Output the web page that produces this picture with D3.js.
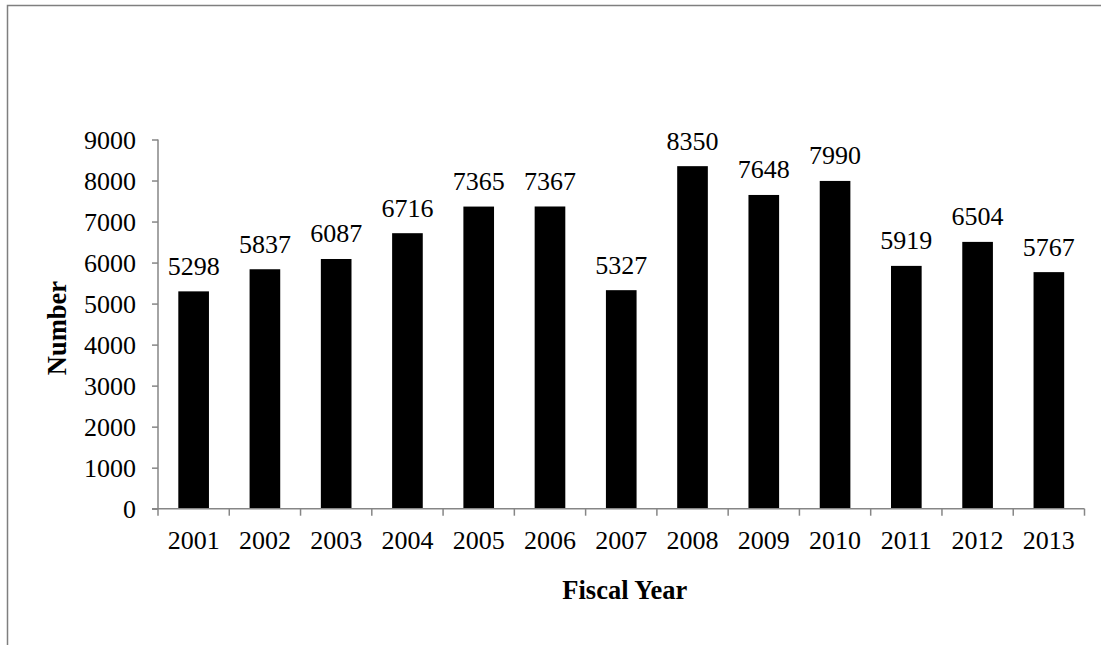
<!DOCTYPE html>
<html>
<head>
<meta charset="utf-8">
<script src="https://cdn.jsdelivr.net/npm/d3@7"></script>
<style>
html,body{margin:0;padding:0;background:#fff;}
svg{display:block;}
text{font-family:"Liberation Serif","Times New Roman",serif;fill:#000;}
</style>
</head>
<body>
<svg id="chart" width="1101" height="645"></svg>
<script>
const years = ["2001","2002","2003","2004","2005","2006","2007","2008","2009","2010","2011","2012","2013"];
const values = [5298,5837,6087,6716,7365,7367,5327,8350,7648,7990,5919,6504,5767];
const yTicks = [0,1000,2000,3000,4000,5000,6000,7000,8000,9000];

(function(){
const svg = d3.select("#chart");
const W = 1101, H = 645;
const FS = "26px";

// outer frame (only top and left visible)
svg.append("rect").attr("x",7.5).attr("y",5.5).attr("width",W+10).attr("height",H+10)
  .attr("fill","none").attr("stroke","#7f7f7f").attr("stroke-width",1.5);

const pLeft = 158, pRight = 1084.5, pTop = 139.5, pBottom = 508.7;
const x = d3.scaleBand().domain(years).range([pLeft,pRight]).padding(0);
const y = d3.scaleLinear().domain([0,9000]).range([pBottom,pTop]);
const barFrac = 0.43;
const axisColor = "#868686";

// bars
svg.append("g").selectAll("rect").data(values).join("rect")
  .attr("x",(d,i)=>x(years[i]) + x.bandwidth()*(1-barFrac)/2)
  .attr("width",x.bandwidth()*barFrac)
  .attr("y",d=>y(d))
  .attr("height",d=>y(0)-y(d))
  .attr("fill","#000");

// value labels
svg.append("g").selectAll("text").data(values).join("text")
  .attr("x",(d,i)=>x(years[i]) + x.bandwidth()/2)
  .attr("y",d=>y(d)-16.5)
  .attr("text-anchor","middle")
  .attr("font-size",FS)
  .text(d=>d);

// y axis
const yAxis = d3.axisLeft(y).tickValues(yTicks).tickSize(6).tickPadding(16).tickFormat(d3.format("d"));
const gy = svg.append("g").attr("transform",`translate(${pLeft},0)`).call(yAxis);
gy.select(".domain").attr("stroke",axisColor).attr("stroke-width",1.5).attr("d",`M0,${pBottom}V${pTop}`);
gy.selectAll(".tick line").attr("stroke",axisColor).attr("stroke-width",1.5);
gy.selectAll(".tick text").attr("font-size",FS).attr("font-family","Liberation Serif, Times New Roman, serif").attr("dy","0.33em");

// x axis
const gx = svg.append("g").attr("transform",`translate(0,${pBottom})`);
gx.append("line").attr("x1",pLeft-6).attr("x2",pRight).attr("y1",0).attr("y2",0)
  .attr("stroke",axisColor).attr("stroke-width",1.5);
const bounds = years.map(d=>x(d)).concat([x(years[years.length-1])+x.bandwidth()]);
gx.selectAll("line.tk").data(bounds).join("line").attr("class","tk")
  .attr("x1",d=>d).attr("x2",d=>d).attr("y1",0).attr("y2",7)
  .attr("stroke",axisColor).attr("stroke-width",1.5);
gx.selectAll("text").data(years).join("text")
  .attr("x",d=>x(d)+x.bandwidth()/2)
  .attr("y",40.5)
  .attr("text-anchor","middle")
  .attr("font-size",FS)
  .text(d=>d);

// axis titles
svg.append("text").attr("x",(pLeft+pRight)/2+3.5).attr("y",599)
  .attr("text-anchor","middle").attr("font-size","26.5px").attr("font-weight","bold")
  .text("Fiscal Year");
svg.append("text").attr("transform",`translate(66,${(pTop+pBottom)/2+4}) rotate(-90)`)
  .attr("text-anchor","middle").attr("font-size","26.5px").attr("font-weight","bold")
  .text("Number");
})();
</script>
</body>
</html>
